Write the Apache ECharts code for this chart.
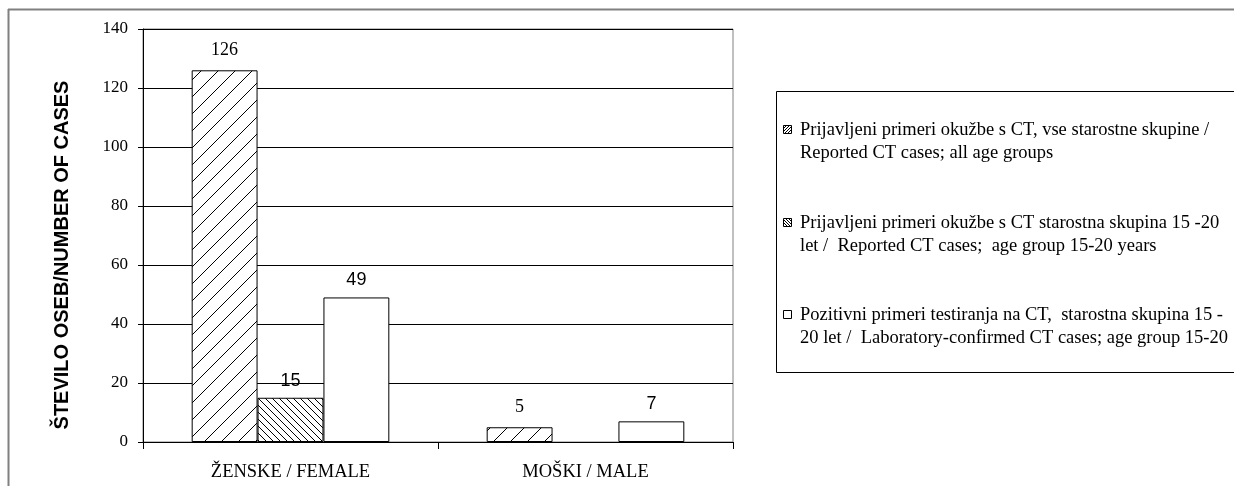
<!DOCTYPE html>
<html>
<head>
<meta charset="utf-8">
<script src="https://cdn.jsdelivr.net/npm/echarts@6/dist/echarts.min.js"></script>
<style>
html,body{margin:0;padding:0;background:#fff;}
#chart{width:1234px;height:486px;}
</style>
</head>
<body>
<div id="chart"></div>
<script>
const categories = ['ŽENSKE / FEMALE', 'MOŠKI / MALE'];
const seriesNames = [
  'Prijavljeni primeri okužbe s CT, vse starostne skupine /\nReported CT cases; all age groups',
  'Prijavljeni primeri okužbe s CT starostna skupina 15 -20\nlet /  Reported CT cases;  age group 15-20 years',
  'Pozitivni primeri testiranja na CT,  starostna skupina 15 -\n20 let /  Laboratory-confirmed CT cases; age group 15-20'
];
const reportedAll = [126, 5];
const reported1520 = [15, null];
const positive1520 = [49, 7];
const yTicks = { min: 0, max: 140, interval: 20 };
const yTitle = 'ŠTEVILO OSEB/NUMBER OF CASES';

function hatch(size, dir, lw) {
  const c = document.createElement('canvas');
  c.width = size; c.height = size;
  const g = c.getContext('2d');
  g.fillStyle = '#fff'; g.fillRect(0, 0, size, size);
  g.strokeStyle = '#000'; g.lineWidth = lw;
  g.beginPath();
  if (dir === 'f') {
    g.moveTo(-1, size + 1); g.lineTo(size + 1, -1);
    g.moveTo(-size - 1, size + 1); g.lineTo(1, -1);
    g.moveTo(size - 1, 2 * size + 1); g.lineTo(2 * size + 1, size - 1);
  } else {
    g.moveTo(-1, -1); g.lineTo(size + 1, size + 1);
    g.moveTo(-size - 1, -1); g.lineTo(1, size + 1);
    g.moveTo(size - 1, -1); g.lineTo(2 * size + 1, size + 1);
  }
  g.stroke();
  return c;
}
const pat1 = { image: hatch(17, 'f', 1), repeat: 'repeat' };
const pat2 = { image: hatch(7, 'b', 1), repeat: 'repeat' };
const pat1s = { image: hatch(3, 'f', 1), repeat: 'repeat' };
const pat2s = { image: hatch(3, 'b', 1), repeat: 'repeat' };

const serif = 'Liberation Serif';
const sans = 'Liberation Sans';

const chart = echarts.init(document.getElementById('chart'), null, { renderer: 'canvas' });

const legendY = [130, 223, 315];
const legendIcons = [pat1s, pat2s, '#fff'];
const graphics = [
  { type: 'line', shape: { x1: 8, y1: 9.5, x2: 1234, y2: 9.5 }, style: { stroke: '#808080', lineWidth: 2 } },
  { type: 'line', shape: { x1: 8.5, y1: 9, x2: 8.5, y2: 486 }, style: { stroke: '#808080', lineWidth: 2 } },
  { type: 'rect', shape: { x: 776.5, y: 91.5, width: 500, height: 281 }, style: { fill: '#fff', stroke: '#000', lineWidth: 1 } }
];
seriesNames.forEach((n, i) => {
  graphics.push({ type: 'rect', shape: { x: 783.5, y: legendY[i] - 4.5, width: 8, height: 8 },
    style: { fill: legendIcons[i], stroke: '#000', lineWidth: 1 } });
  graphics.push({ type: 'text', x: 800, y: legendY[i] - 11.75,
    style: { text: n, font: '18.5px "Liberation Serif"', fill: '#000', lineHeight: 23.5, textVerticalAlign: 'top' } });
});

chart.setOption({
  animation: false,
  backgroundColor: '#fff',
  grid: { left: 143, top: 29, width: 590, height: 413, show: true, borderColor: '#808080', borderWidth: 1, backgroundColor: 'transparent' },
  xAxis: {
    type: 'category', data: categories,
    axisLine: { lineStyle: { color: '#000', width: 1 } },
    axisTick: { show: true, length: 7, lineStyle: { color: '#000' } },
    axisLabel: { color: '#000', fontFamily: serif, fontSize: 18.5, margin: 21 }
  },
  yAxis: {
    type: 'value', min: yTicks.min, max: yTicks.max, interval: yTicks.interval,
    name: yTitle, nameLocation: 'middle', nameRotate: 90, nameGap: 71,
    nameTextStyle: { color: '#000', fontFamily: sans, fontWeight: 'bold', fontSize: 20, padding: [0, 39, 0, 0] },
    axisLine: { show: true, lineStyle: { color: '#000', width: 1 } },
    axisTick: { show: true, length: 5, lineStyle: { color: '#000' } },
    axisLabel: { color: '#000', fontFamily: serif, fontSize: 17, margin: 15 },
    splitLine: { show: true, lineStyle: { color: '#000', width: 1 } }
  },
  series: [
    { name: seriesNames[0], type: 'bar', data: reportedAll, barGap: '0%', barCategoryGap: '33%',
      itemStyle: { color: pat1, borderColor: '#000', borderWidth: 1 },
      label: { show: true, position: 'top', distance: 11, color: '#000', fontFamily: serif, fontSize: 18 } },
    { name: seriesNames[1], type: 'bar', data: reported1520, barGap: '0%', barCategoryGap: '33%',
      itemStyle: { color: pat2, borderColor: '#000', borderWidth: 1 },
      label: { show: true, position: 'top', distance: 8, color: '#000', fontFamily: sans, fontSize: 18 } },
    { name: seriesNames[2], type: 'bar', data: positive1520, barGap: '0%', barCategoryGap: '33%',
      itemStyle: { color: '#fff', borderColor: '#000', borderWidth: 1 },
      label: { show: true, position: 'top', distance: 8, color: '#000', fontFamily: sans, fontSize: 18 } }
  ],
  graphic: graphics
});
</script>
</body>
</html>
